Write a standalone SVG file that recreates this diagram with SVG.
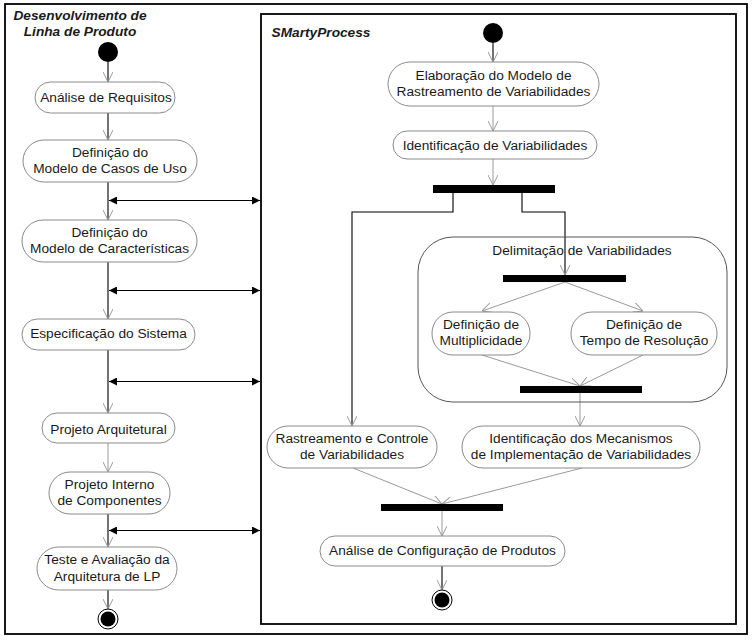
<svg xmlns="http://www.w3.org/2000/svg" width="752" height="642" viewBox="0 0 752 642">
<style>
text{font-family:"Liberation Sans",Arial,sans-serif;font-size:13.7px;fill:#1a1a1a;text-anchor:middle}
.title{font-weight:bold;font-style:italic;text-anchor:middle}
.node rect{fill:#fff;stroke:#8a8a8a;stroke-width:1}
.frame{fill:none;stroke:#000;stroke-width:1.8}
.bar{fill:#000}
.k{stroke:#000;stroke-width:1.1;fill:none}
.g{stroke:#9a9a9a;stroke-width:1;fill:none}
.bi{stroke:#000;stroke-width:1.1;fill:none;marker-start:url(#fa);marker-end:url(#fa)}
.open{marker-end:url(#va)}
</style>
<defs>
<marker id="va" viewBox="0 0 10 10" refX="10" refY="5" markerWidth="10" markerHeight="10" markerUnits="userSpaceOnUse" orient="auto">
<path d="M0,0 L10,5 L0,10" fill="none" stroke="#9a9a9a" stroke-width="1"/>
</marker>
<marker id="fa" viewBox="0 0 8 8" refX="8" refY="4" markerWidth="8" markerHeight="8" markerUnits="userSpaceOnUse" orient="auto-start-reverse">
<path d="M0,0 L8,4 L0,8 Z" fill="#000"/>
</marker>
</defs>
<rect width="752" height="642" fill="#fff"/>
<rect class="frame" x="5" y="4" width="742" height="630"/>
<rect class="frame" x="261" y="14" width="475" height="610"/>
<text class="title" x="80" y="20">Desenvolvimento de</text>
<text class="title" x="80" y="36">Linha de Produto</text>
<text class="title" x="321" y="37">SMartyProcess</text>

<g id="connectors">
<line class="k open" x1="108" y1="62" x2="108" y2="82"/>
<line class="k open" x1="108" y1="113" x2="108" y2="140"/>
<line class="k open" x1="108" y1="182" x2="108" y2="220"/>
<line class="k open" x1="108" y1="262" x2="108" y2="319"/>
<line class="k open" x1="108" y1="350" x2="108" y2="413"/>
<line class="g open" x1="108" y1="443" x2="108" y2="472"/>
<line class="k open" x1="108" y1="514" x2="108" y2="547"/>
<line class="k open" x1="108" y1="590" x2="108" y2="609"/>
<line class="bi" x1="109" y1="200.5" x2="260" y2="200.5"/>
<line class="bi" x1="109" y1="290.5" x2="260" y2="290.5"/>
<line class="bi" x1="109" y1="381.5" x2="260" y2="381.5"/>
<line class="bi" x1="109" y1="530.5" x2="260" y2="530.5"/>

<line class="k open" x1="493" y1="43" x2="493" y2="62"/>
<line class="g open" x1="493" y1="106" x2="493" y2="131"/>
<line class="g open" x1="493" y1="159" x2="493" y2="185"/>
<polyline class="k open" points="453,193 453,212 352,212 352,426"/>
<polyline class="k open" points="522,193 522,212 565,212 565,275"/>
<line class="g open" x1="565" y1="282" x2="482" y2="311"/>
<line class="g open" x1="565" y1="282" x2="643" y2="311"/>
<line class="g open" x1="482" y1="355" x2="580" y2="386"/>
<line class="g open" x1="643" y1="355" x2="580" y2="386"/>
<line class="g open" x1="580" y1="393" x2="580" y2="426"/>
<line class="g open" x1="353" y1="468" x2="442" y2="504"/>
<line class="g open" x1="582" y1="468" x2="442" y2="504"/>
<line class="g open" x1="442" y1="511" x2="442" y2="536"/>
<line class="k open" x1="442" y1="566" x2="442" y2="590"/>
</g>

<g id="start-left"><circle cx="108" cy="52" r="10" fill="#000"/></g>
<g id="end-left"><circle cx="108" cy="619" r="10" fill="#fff" stroke="#000" stroke-width="1"/><circle cx="108" cy="619" r="7.5" fill="#000"/></g>

<g id="analise-requisitos" class="node"><rect x="35" y="82" width="140" height="31" rx="15.5"/><text x="106" y="102">Análise de Requisitos</text></g>
<g id="casos-uso" class="node"><rect x="23" y="140" width="174" height="42" rx="21"/><text x="110" y="157">Definição do</text><text x="110" y="173">Modelo de Casos de Uso</text></g>
<g id="caracteristicas" class="node"><rect x="22" y="220" width="175" height="42" rx="21"/><text x="109.5" y="237">Definição do</text><text x="109.5" y="253">Modelo de Características</text></g>
<g id="especificacao" class="node"><rect x="22" y="319" width="173" height="31" rx="15.5"/><text x="108.5" y="338">Especificação do Sistema</text></g>
<g id="projeto-arquitetural" class="node"><rect x="42" y="413" width="133" height="30" rx="15"/><text x="108.5" y="434">Projeto Arquitetural</text></g>
<g id="projeto-interno" class="node"><rect x="49" y="472" width="121" height="42" rx="21"/><text x="109.5" y="489">Projeto Interno</text><text x="109.5" y="505">de Componentes</text></g>
<g id="teste-avaliacao" class="node"><rect x="37" y="547" width="140" height="43" rx="21.5"/><text x="107" y="564">Teste e Avaliação da</text><text x="107" y="581">Arquitetura de LP</text></g>

<g id="start-right"><circle cx="493" cy="33" r="10" fill="#000"/></g>
<g id="elaboracao" class="node"><rect x="388" y="62" width="211" height="44" rx="22"/><text x="493.5" y="80">Elaboração do Modelo de</text><text x="493.5" y="96">Rastreamento de Variabilidades</text></g>
<g id="identificacao" class="node"><rect x="393" y="131" width="204" height="28" rx="14"/><text x="495" y="150">Identificação de Variabilidades</text></g>
<g id="fork1"><rect class="bar" x="433" y="185" width="122" height="8"/></g>
<g id="delimitacao"><rect x="418" y="237" width="309" height="165" rx="35" fill="none" stroke="#555" stroke-width="1"/><text x="582" y="255">Delimitação de Variabilidades</text></g>
<g id="fork2"><rect class="bar" x="503" y="275" width="123" height="7"/></g>
<g id="multiplicidade" class="node"><rect x="432" y="312" width="98" height="43" rx="21"/><text x="481" y="329">Definição de</text><text x="481" y="345">Multiplicidade</text></g>
<g id="tempo-resolucao" class="node"><rect x="571" y="312" width="146" height="43" rx="21"/><text x="644" y="329">Definição de</text><text x="644" y="345">Tempo de Resolução</text></g>
<g id="join1"><rect class="bar" x="520" y="386" width="122" height="7"/></g>
<g id="rastreamento" class="node"><rect x="267" y="426" width="170" height="42" rx="21"/><text x="352" y="443">Rastreamento e Controle</text><text x="352" y="459">de Variabilidades</text></g>
<g id="mecanismos" class="node"><rect x="462" y="426" width="238" height="42" rx="21"/><text x="581" y="443">Identificação dos Mecanismos</text><text x="581" y="459">de Implementação de Variabilidades</text></g>
<g id="join2"><rect class="bar" x="381" y="504" width="122" height="7"/></g>
<g id="analise-configuracao" class="node"><rect x="320" y="536" width="245" height="30" rx="15"/><text x="442.5" y="555">Análise de Configuração de Produtos</text></g>
<g id="end-right"><circle cx="442" cy="600" r="10" fill="#fff" stroke="#000" stroke-width="1"/><circle cx="442" cy="600" r="7.5" fill="#000"/></g>
</svg>
